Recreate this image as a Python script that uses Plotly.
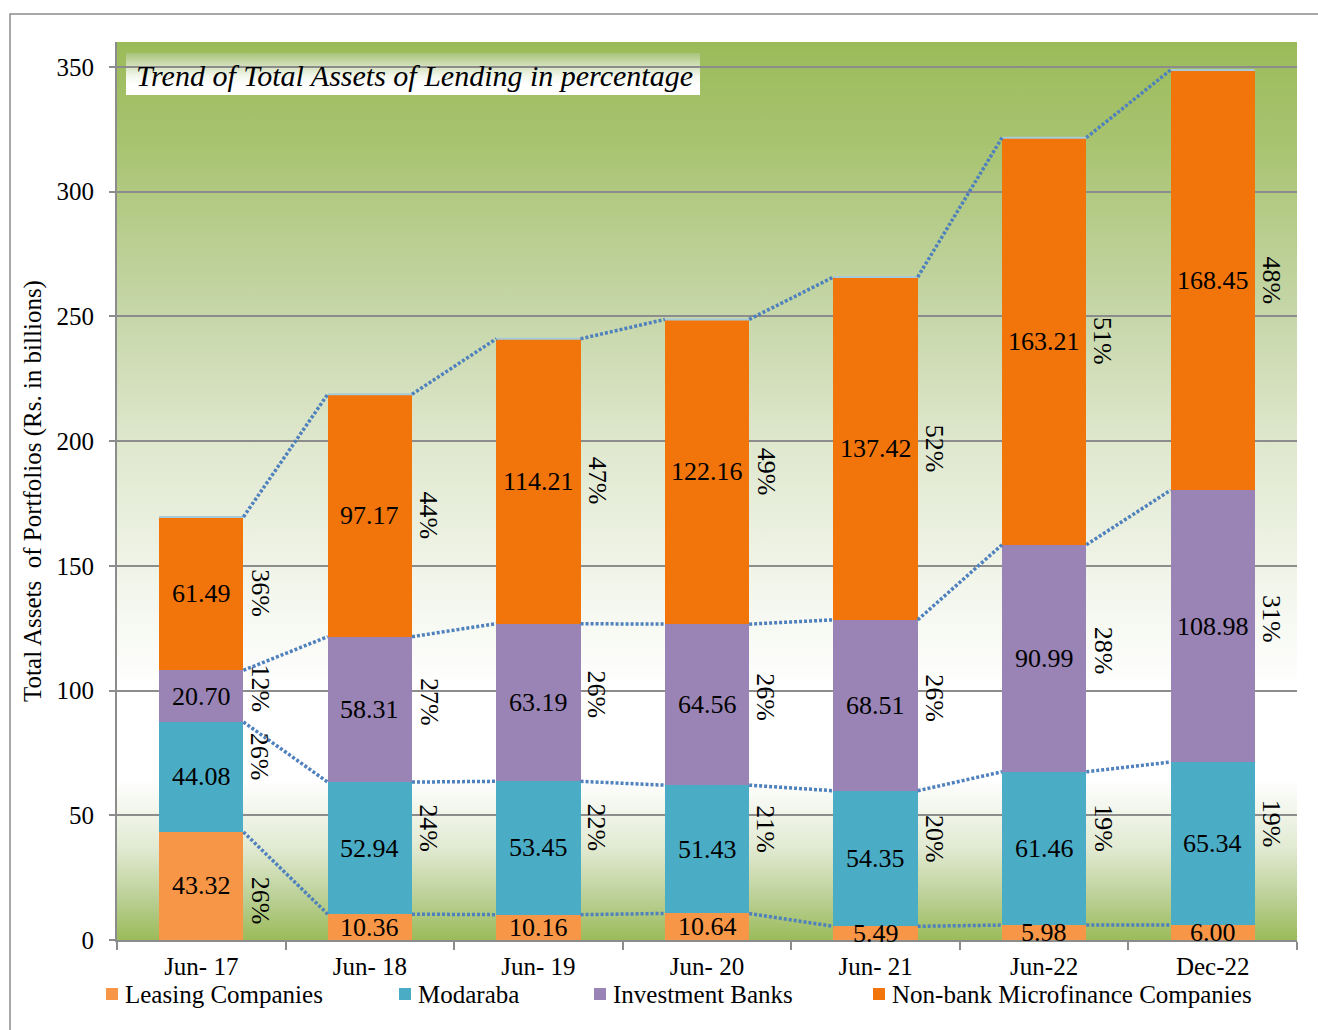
import base64
import plotly.graph_objects as go

# ---- data (Rs. in billions) ----
periods = ["Jun- 17", "Jun- 18", "Jun- 19", "Jun- 20", "Jun- 21", "Jun-22", "Dec-22"]
leasing = [43.32, 10.36, 10.16, 10.64, 5.49, 5.98, 6.00]
modaraba = [44.08, 52.94, 53.45, 51.43, 54.35, 61.46, 65.34]
investment_banks = [20.70, 58.31, 63.19, 64.56, 68.51, 90.99, 108.98]
nbmfc = [61.49, 97.17, 114.21, 122.16, 137.42, 163.21, 168.45]

# share of each sector in the period total (labels shown beside the bars)
pct_leasing = ["26%", "", "", "", "", "", ""]
pct_modaraba = ["26%", "24%", "22%", "21%", "20%", "19%", "19%"]
pct_investment = ["12%", "27%", "26%", "26%", "26%", "28%", "31%"]
pct_nbmfc = ["36%", "44%", "47%", "49%", "52%", "51%", "48%"]

series = [
    ("Leasing Companies", leasing, pct_leasing, "#F79646", -6),
    ("Modaraba", modaraba, pct_modaraba, "#4BACC6", 8),
    ("Investment Banks", investment_banks, pct_investment, "#9A84B5", 3),
    ("Non-bank Microfinance Companies", nbmfc, pct_nbmfc, "#F2750C", 0),
]

FONT = "Liberation Serif, Times New Roman, serif"
W_FIG, H_FIG = 1318, 1030
L, R, T, B = 117, 1297, 42, 940


def px_x(px):
    return (px - L) / (R - L)


def px_y(py):
    return (B - py) / (B - T)


def gradient_uri(stops):
    parts = "".join(
        f'<stop offset="{o}" stop-color="{c}"/>' for o, c in stops
    )
    svg = (
        '<svg xmlns="http://www.w3.org/2000/svg" width="100" height="100" '
        'viewBox="0 0 100 100" preserveAspectRatio="none">'
        '<defs><linearGradient id="g" x1="0" y1="0" x2="0" y2="1">'
        f"{parts}</linearGradient></defs>"
        '<rect x="0" y="0" width="100" height="100" fill="url(#g)"/></svg>'
    )
    return "data:image/svg+xml;base64," + base64.b64encode(svg.encode()).decode()


def frac(py):
    return round((py - T) / (B - T), 4)


plot_bg = gradient_uri([
    (frac(42), "#9BBB59"),
    (frac(150), "#A9C472"),
    (frac(300), "#C4D5A5"),
    (frac(450), "#E0E8CF"),
    (frac(600), "#F4F7EE"),
    (frac(690), "#FFFFFF"),
    (frac(780), "#FFFFFF"),
    (frac(850), "#E0E9D0"),
    (frac(900), "#B9CF93"),
    (frac(940), "#9BBB59"),
])

title_bg = gradient_uri([
    (0, "#A9C37A"),
    (0.2, "#C5D7A5"),
    (0.55, "#F3F7EC"),
    (0.75, "#FFFFFF"),
    (1, "#FFFFFF"),
])

x = list(range(len(periods)))
fig = go.Figure()

for name, vals, _, color, _ in series:
    fig.add_trace(go.Bar(
        x=x, y=vals, name=name, width=0.5,
        marker=dict(color=color, line=dict(width=0)),
        showlegend=False, hoverinfo="skip",
    ))

# cumulative tops of each stacked segment
tops = []
running = [0.0] * len(x)
for _, vals, _, _, _ in series:
    running = [r + v for r, v in zip(running, vals)]
    tops.append(list(running))

# thin highlight along the top edge of each full bar
fig.add_trace(go.Scatter(
    x=[v for i in x for v in (i - 0.25, i + 0.25, None)],
    y=[v for t in tops[-1] for v in (t, t, None)],
    mode="lines", showlegend=False, hoverinfo="skip",
    line=dict(color="#A6CBD8", width=2),
))

# series lines joining segment tops of neighbouring bars
for level in tops:
    lx, ly = [], []
    for i in range(len(x) - 1):
        lx += [x[i] + 0.25, x[i + 1] - 0.25, None]
        ly += [level[i], level[i + 1], None]
    fig.add_trace(go.Scatter(
        x=lx, y=ly, mode="lines", showlegend=False, hoverinfo="skip",
        line=dict(color="#4F81BD", width=3.5, dash="3px,2px"),
    ))

annotations = []
bottoms = [0.0] * len(x)
for (name, vals, pcts, color, shift), top in zip(series, tops):
    for i in x:
        mid = bottoms[i] + vals[i] / 2
        annotations.append(dict(
            x=x[i], y=mid, xref="x", yref="y", text=f"{vals[i]:.2f}",
            showarrow=False, font=dict(family=FONT, size=26, color="#000000"),
        ))
        if pcts[i]:
            annotations.append(dict(
                x=x[i] + 0.35, y=mid + shift, xref="x", yref="y", text=pcts[i],
                textangle=90, showarrow=False,
                font=dict(family=FONT, size=26, color="#000000"),
            ))
    bottoms = top

annotations.append(dict(
    x=px_x(134), y=px_y(75), xref="paper", yref="paper",
    xanchor="left", yanchor="middle", showarrow=False,
    text="<i>Trend of Total Assets of Lending in percentage</i>",
    font=dict(family=FONT, size=30, color="#000000"),
))

images = [
    dict(source=plot_bg, xref="paper", yref="paper", x=0, y=1,
         sizex=1, sizey=1, xanchor="left", yanchor="top",
         sizing="stretch", layer="below"),
    dict(source=title_bg, xref="paper", yref="paper",
         x=px_x(126), y=px_y(53), sizex=px_x(700) - px_x(126),
         sizey=px_y(53) - px_y(95), xanchor="left", yanchor="top",
         sizing="stretch", layer="below"),
]

shapes = [
    # outer chart frame
    dict(type="rect", xref="paper", yref="paper",
         x0=px_x(10), y0=px_y(1040), x1=px_x(1330), y1=px_y(14),
         line=dict(color="#8C8C8C", width=1.5), fillcolor="rgba(0,0,0,0)",
         layer="below"),
]

# legend: coloured key squares with their labels along the bottom
legend_square_left = [106, 399, 594, 873]
legend_y = 994
for (name, _, _, color, _), left in zip(series, legend_square_left):
    shapes.append(dict(
        type="rect", xref="paper", yref="paper",
        x0=px_x(left), x1=px_x(left + 12),
        y0=px_y(legend_y + 6), y1=px_y(legend_y - 6),
        fillcolor=color, line=dict(width=0),
    ))
    annotations.append(dict(
        x=px_x(left + 17), y=px_y(legend_y), xref="paper", yref="paper",
        xanchor="left", yanchor="middle", showarrow=False, text=name,
        font=dict(family=FONT, size=25, color="#000000"),
    ))

fig.update_layout(
    width=W_FIG, height=H_FIG,
    margin=dict(l=L, r=W_FIG - R, t=T, b=H_FIG - B, pad=0),
    barmode="stack",
    paper_bgcolor="#FFFFFF",
    plot_bgcolor="rgba(0,0,0,0)",
    font=dict(family=FONT, size=25, color="#000000"),
    annotations=annotations,
    images=images,
    shapes=shapes,
    showlegend=False,
)

fig.update_xaxes(
    range=[-0.5, 6.5], tickvals=x, ticktext=periods,
    ticks="", showgrid=False, zeroline=False,
    showline=True, linecolor="#8C8C8C", linewidth=2,
    tickfont=dict(family=FONT, size=25, color="#000000"),
    ticklabelstandoff=3,
    minor=dict(tickvals=[i - 0.5 for i in range(len(x) + 1)],
               ticks="outside", ticklen=8, tickwidth=2, tickcolor="#8C8C8C",
               showgrid=False),
)
fig.update_yaxes(
    range=[0, 360], tickvals=[0, 50, 100, 150, 200, 250, 300, 350],
    ticks="outside", ticklen=6, tickwidth=2, tickcolor="#8C8C8C",
    showgrid=True, gridcolor="#8C8C8C", gridwidth=1.5,
    zeroline=False, showline=True, linecolor="#8C8C8C", linewidth=2,
    tickfont=dict(family=FONT, size=25, color="#000000"),
    ticklabelstandoff=10,
    title=dict(text="Total Assets\u00a0 of Portfolios (Rs. in billions)",
               font=dict(family=FONT, size=25, color="#000000"), standoff=8),
)

fig.write_html("out.html")
